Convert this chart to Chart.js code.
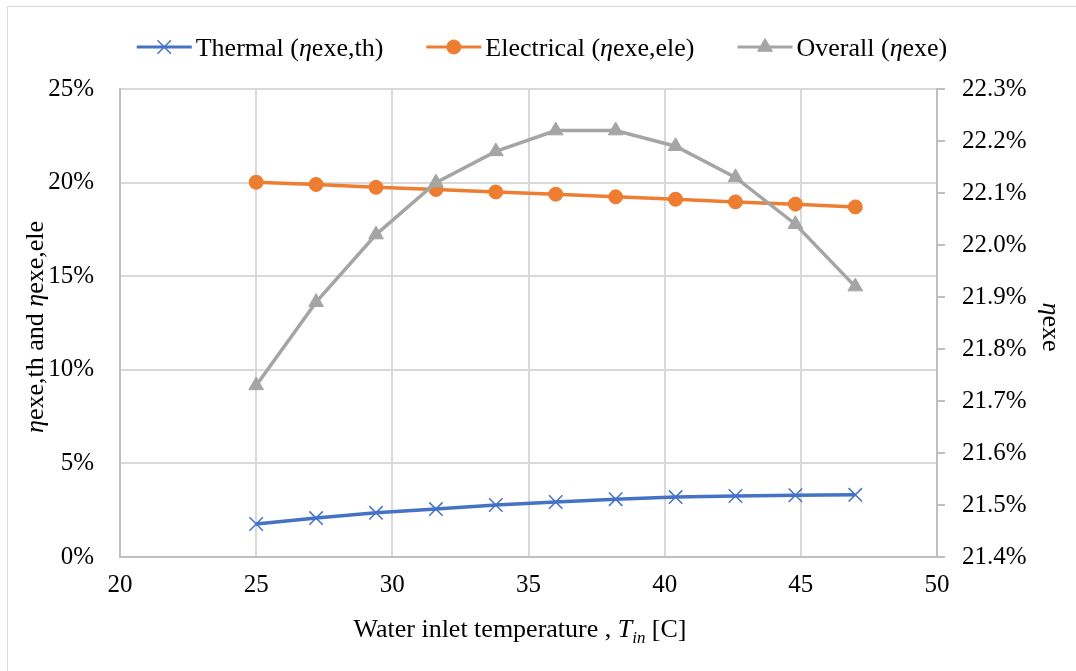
<!DOCTYPE html>
<html><head><meta charset="utf-8">
<script src="https://cdn.jsdelivr.net/npm/chart.js@4.4.0/dist/chart.umd.min.js"></script>
<style>html,body{margin:0;padding:0;background:#fff;} canvas{display:block;}</style>
</head><body>
<canvas id="c" width="1076" height="671"></canvas>
<script>
// ---- data ----
const temperatures = [25, 27.2, 29.4, 31.6, 33.8, 36, 38.2, 40.4, 42.6, 44.8, 47];
const thermal = [1.76, 2.08, 2.36, 2.56, 2.78, 2.94, 3.09, 3.20, 3.26, 3.30, 3.32];
const electrical = [20.02, 19.90, 19.75, 19.63, 19.50, 19.38, 19.24, 19.11, 18.97, 18.85, 18.70];
const overall = [21.73, 21.89, 22.02, 22.12, 22.18, 22.22, 22.22, 22.19, 22.13, 22.04, 21.92];
const xTicks = [20, 25, 30, 35, 40, 45, 50];
const leftTicks = [0, 5, 10, 15, 20, 25];
const leftTickLabels = ['0%', '5%', '10%', '15%', '20%', '25%'];
const rightTicks = [21.4, 21.5, 21.6, 21.7, 21.8, 21.9, 22.0, 22.1, 22.2, 22.3];
const rightTickLabels = ['21.4%', '21.5%', '21.6%', '21.7%', '21.8%', '21.9%', '22.0%', '22.1%', '22.2%', '22.3%'];

const FONT = '"Liberation Serif", "Times New Roman", serif';
const TICK_SIZE = 25;
const TITLE_SIZE = 26;
const BLUE = '#4472C4', ORANGE = '#ED7D31', GRAY = '#A5A5A5';
const GRID = '#D9D9D9', AXIS = '#BFBFBF';

Chart.defaults.font.family = FONT;
Chart.defaults.color = '#000';

function fontStr(size, italic) { return (italic ? 'italic ' : '') + size + 'px ' + FONT; }
function segWidth(ctx, segs, size) {
  let w = 0;
  for (const s of segs) { ctx.font = fontStr(s.sub ? size * 0.65 : size, s.i); w += ctx.measureText(s.t).width; }
  return w;
}
function drawRich(ctx, segs, x, y, size, align) {
  const w = segWidth(ctx, segs, size);
  let cx = align === 'center' ? x - w / 2 : x;
  ctx.textBaseline = 'alphabetic';
  ctx.textAlign = 'left';
  for (const s of segs) {
    const sz = s.sub ? size * 0.65 : size;
    ctx.font = fontStr(sz, s.i);
    ctx.fillText(s.t, cx, y + (s.sub ? size * 0.22 : 0));
    cx += ctx.measureText(s.t).width;
  }
  return w;
}

const legendItems = [
  { ds: 0, segs: [{t: 'Thermal ('}, {t: 'η', i: true}, {t: 'exe,th)'}] },
  { ds: 1, segs: [{t: 'Electrical ('}, {t: 'η', i: true}, {t: 'exe,ele)'}] },
  { ds: 2, segs: [{t: 'Overall ('}, {t: 'η', i: true}, {t: 'exe)'}] }
];
const xTitle = [{t: 'Water inlet temperature , '}, {t: 'T', i: true}, {t: 'in', i: true, sub: true}, {t: ' [C]'}];
const yTitle = [{t: 'η', i: true}, {t: 'exe,th and '}, {t: 'η', i: true}, {t: 'exe,ele'}];
const y1Title = [{t: 'η', i: true}, {t: 'exe'}];

const decor = {
  id: 'decor',
  beforeDraw(chart) {
    const ctx = chart.ctx;
    ctx.save();
    ctx.fillStyle = '#fff';
    ctx.fillRect(0, 0, chart.width, chart.height);
    ctx.strokeStyle = GRID;
    ctx.lineWidth = 1;
    ctx.strokeRect(7.5, 6.5, chart.width + 20, chart.height + 20);
    ctx.restore();
  },
  afterDraw(chart) {
    const ctx = chart.ctx;
    ctx.save();
    ctx.fillStyle = '#000';
    // legend
    const lineLen = 55, gapText = 4, gapItems = 43, ly = 47;
    let total = 0;
    const widths = legendItems.map(it => segWidth(ctx, it.segs, TITLE_SIZE));
    widths.forEach((w, k) => { total += lineLen + gapText + w + (k ? gapItems : 0); });
    let x = 542 - total / 2;
    legendItems.forEach((it, k) => {
      const ds = chart.data.datasets[it.ds];
      ctx.strokeStyle = ds.borderColor;
      ctx.lineWidth = 3;
      ctx.beginPath(); ctx.moveTo(x, ly); ctx.lineTo(x + lineLen, ly); ctx.stroke();
      ctx.fillStyle = ds.pointBackgroundColor;
      ctx.strokeStyle = ds.pointBorderColor;
      ctx.lineWidth = ds.pointBorderWidth;
      Chart.helpers.drawPoint(ctx, {pointStyle: ds.pointStyle, radius: ds.pointRadius, rotation: 0, borderWidth: ds.pointBorderWidth}, x + lineLen / 2, ly);
      ctx.fillStyle = '#000';
      drawRich(ctx, it.segs, x + lineLen + gapText, ly + 9, TITLE_SIZE, 'left');
      x += lineLen + gapText + widths[k] + gapItems;
    });
    // x title
    drawRich(ctx, xTitle, 520, 637, TITLE_SIZE, 'center');
    // left title
    ctx.save();
    ctx.translate(43, 327);
    ctx.rotate(-Math.PI / 2);
    drawRich(ctx, yTitle, 0, 0, TITLE_SIZE, 'center');
    ctx.restore();
    // right title
    ctx.save();
    ctx.translate(1043, 327);
    ctx.rotate(Math.PI / 2);
    drawRich(ctx, y1Title, 0, 0, TITLE_SIZE, 'center');
    ctx.restore();
    ctx.restore();
  }
};

const pts = arr => temperatures.map((t, i) => ({x: t, y: arr[i]}));

new Chart(document.getElementById('c'), {
  type: 'line',
  data: {
    datasets: [
      { label: 'Thermal (ηexe,th)', data: pts(thermal), yAxisID: 'y',
        borderColor: BLUE, backgroundColor: BLUE, borderWidth: 3.5,
        pointStyle: 'crossRot', pointRadius: 9.5, pointBorderWidth: 1.5,
        pointBorderColor: BLUE, pointBackgroundColor: BLUE, order: 2 },
      { label: 'Electrical (ηexe,ele)', data: pts(electrical), yAxisID: 'y',
        borderColor: ORANGE, backgroundColor: ORANGE, borderWidth: 3.5,
        pointStyle: 'circle', pointRadius: 7, pointBorderWidth: 1,
        pointBorderColor: ORANGE, pointBackgroundColor: ORANGE, order: 1 },
      { label: 'Overall (ηexe)', data: pts(overall), yAxisID: 'y1',
        borderColor: GRAY, backgroundColor: GRAY, borderWidth: 3.5,
        pointStyle: 'triangle', pointRadius: 8.5, pointBorderWidth: 1,
        pointBorderColor: GRAY, pointBackgroundColor: GRAY, order: 0 }
    ]
  },
  options: {
    responsive: false,
    animation: false,
    devicePixelRatio: 1,
    layout: { padding: { top: 89, left: 0, right: 0, bottom: 0 } },
    plugins: { legend: { display: false }, tooltip: { enabled: false } },
    elements: { line: { tension: 0 } },
    scales: {
      x: {
        type: 'linear', min: 20, max: 50,
        afterBuildTicks: s => { s.ticks = xTicks.map(v => ({value: v})); },
        afterFit: s => { s.height = 114; },
        grid: { color: GRID, lineWidth: 2, drawTicks: false },
        border: { color: AXIS, width: 2 },
        ticks: { font: { size: TICK_SIZE }, padding: 13, maxRotation: 0, autoSkip: false,
                 callback: (v, i) => String(xTicks[i]) }
      },
      y: {
        position: 'left', min: 0, max: 25,
        afterBuildTicks: s => { s.ticks = leftTicks.map(v => ({value: v})); },
        afterFit: s => { s.width = 120; },
        grid: { color: GRID, lineWidth: 2, drawTicks: false },
        border: { color: AXIS, width: 2 },
        ticks: { font: { size: TICK_SIZE }, padding: 26, callback: (v, i) => leftTickLabels[i] }
      },
      y1: {
        position: 'right', min: 21.4, max: 22.3,
        afterBuildTicks: s => { s.ticks = rightTicks.map(v => ({value: v})); },
        afterFit: s => { s.width = 139; },
        grid: { drawOnChartArea: false, drawTicks: true, tickLength: 8, color: AXIS, lineWidth: 2 },
        border: { color: AXIS, width: 2 },
        ticks: { font: { size: TICK_SIZE }, padding: 17, callback: (v, i) => rightTickLabels[i] }
      }
    }
  },
  plugins: [decor]
});
</script>
</body></html>
